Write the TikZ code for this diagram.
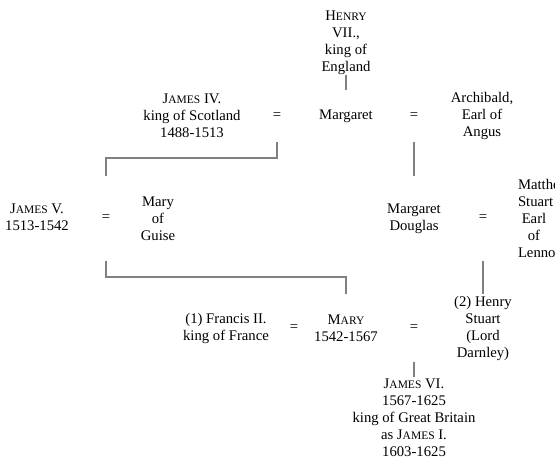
\documentclass[tikz,border=0pt]{standalone}
\usepackage{fontspec}
\setmainfont{Liberation Serif}
\hyphenpenalty=10000
\newcommand\capname[2]{#1{\fontsize{11.5}{17}\selectfont#2}}

\begin{document}
\begin{tikzpicture}[x=1pt,y=-1pt,
    every node/.style={align=center,inner sep=0pt,
      font=\fontsize{14.7}{17}\selectfont},
    rowa/.style={minimum height=52pt},
    rowb/.style={minimum height=85pt},
    rowc/.style={minimum height=68pt},
    kin/.style={draw=gray,line width=1.8pt}]
  \clip (0,0) rectangle (555,461);

  \node (henry) at (346,43) {\capname{H}{ENRY}\\VII.,\\king of\\England};

  % first generation
  \node[rowa] (jamesiv)   at (192,116) {\capname{J}{AMES} IV.\\king of Scotland\\1488-1513};
  \node[rowa] (eqa)       at (277,116) {=};
  \node[rowa] (margaret)  at (346,116) {Margaret};
  \node[rowa] (eqb)       at (414,116) {=};
  \node[rowa] (archibald) at (482,116) {Archibald,\\Earl of\\Angus};

  % second generation
  \node[rowb] (jamesv)    at (37,217)    {\capname{J}{AMES} V.\\1513-1542};
  \node[rowb] (eqc)       at (106,218.5) {=};
  \node[rowb] (guise)     at (158,218.5) {Mary\\of\\Guise};
  \node[rowb] (mdouglas)  at (414,218.5) {Margaret\\Douglas};
  \node[rowb] (eqd)       at (483,218.5) {=};
  \node[rowb,text width=32pt] (matthew) at (534,218.5) {Matthew\\Stuart\\Earl\\of\\Lennox};

  % third generation
  \node[rowc] (francis)   at (226,328) {(1) Francis II.\\king of France};
  \node[rowc] (eqe)       at (294,328) {=};
  \node[rowc] (mary)      at (346,328) {\capname{M}{ARY}\\1542-1567};
  \node[rowc] (eqf)       at (414,328) {=};
  \node[rowc] (hstuart)   at (483,328) {(2) Henry\\Stuart\\(Lord\\Darnley)};

  \node[anchor=north,inner ysep=2pt] (jamesvi) at (414,377)
    {\capname{J}{AMES} VI.\\1567-1625\\king of Great Britain\\as \capname{J}{AMES} I.\\1603-1625};

  \draw[kin] (henry.south) -- (margaret.north);
  \draw[kin] (eqa.south) -- ++(0,16) -| (eqc.north);
  \draw[kin] (eqb.south) -- (mdouglas.north);
  \draw[kin] (eqc.south) -- ++(0,16) -| (mary.north);
  \draw[kin] (eqd.south) -- (hstuart.north);
  \draw[kin] (eqf.south) -- (jamesvi.north);
\end{tikzpicture}
\end{document}
